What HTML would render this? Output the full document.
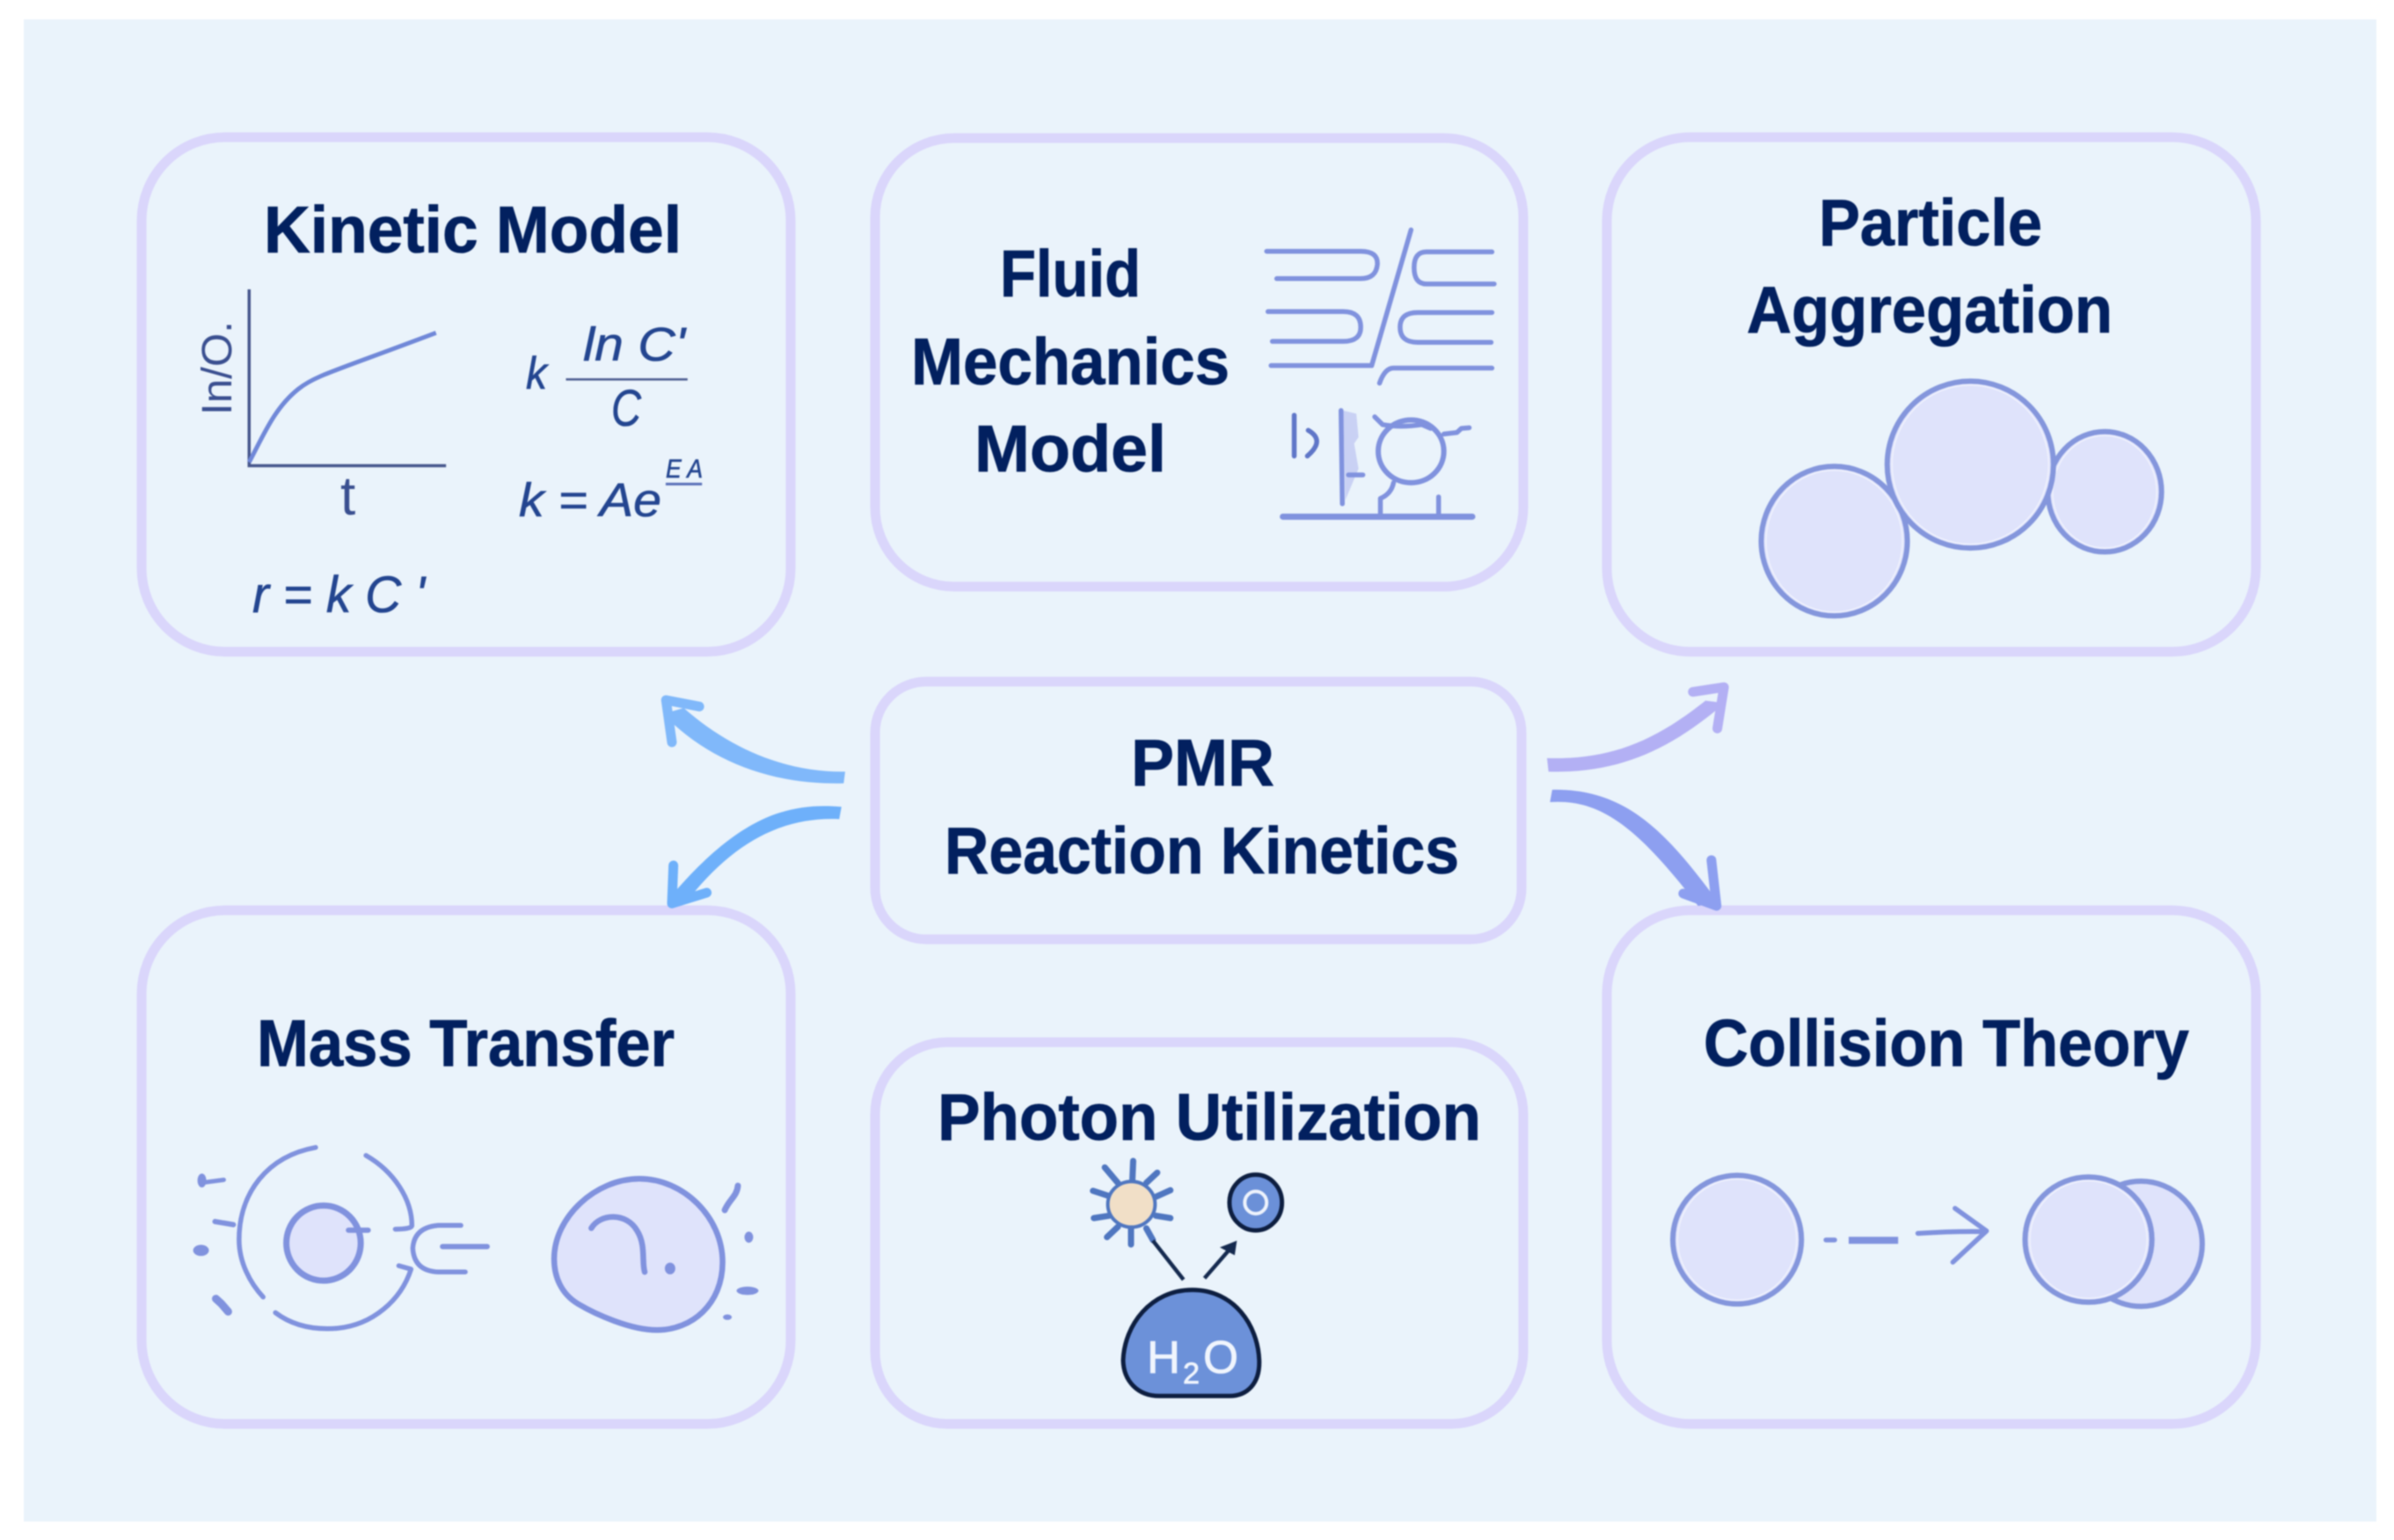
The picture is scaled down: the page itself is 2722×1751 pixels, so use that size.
<!DOCTYPE html>
<html><head><meta charset="utf-8"><title>PMR Reaction Kinetics</title>
<style>
html,body{margin:0;padding:0;background:#fff;width:2722px;height:1751px;overflow:hidden}
svg{display:block;filter:blur(.7px)}
svg *{vector-effect:non-scaling-stroke}
.c{fill:none;stroke:#dad6fb;stroke-width:11}
.h{font-family:"Liberation Sans",sans-serif;font-weight:bold;font-size:75px;fill:#02205f;stroke:#02205f;stroke-width:.8px}
.m{font-family:"Liberation Sans",sans-serif;font-style:italic;fill:#234590;stroke:#234590;stroke-width:.6px}
.s{fill:none;stroke:#8092de;stroke-width:5.5;stroke-linecap:round;stroke-linejoin:round}
.p{fill:#dfe3fb;stroke:#8496dc;stroke-width:6}
.i{fill:none;stroke:#f0f2fd;stroke-width:1.5}
</style></head><body>
<svg width="2722" height="1751" viewBox="0 0 2722 1751" xmlns="http://www.w3.org/2000/svg">
<rect x="27" y="22" width="2675" height="1708" fill="#eaf3fb"/>

<!-- cards -->
<rect class="c" x="161" y="156" width="738" height="585" rx="95"/>
<rect class="c" x="995" y="157" width="737" height="510" rx="90"/>
<rect class="c" x="1827" y="156" width="738" height="585" rx="95"/>
<rect class="c" x="995" y="775" width="735" height="293" rx="58"/>
<rect class="c" x="161" y="1035" width="738" height="584" rx="95"/>
<rect class="c" x="995" y="1185" width="737" height="434" rx="82"/>
<rect class="c" x="1827" y="1035" width="738" height="584" rx="95"/>

<!-- headings -->
<text class="h" x="300" y="287" textLength="475" lengthAdjust="spacingAndGlyphs">Kinetic Model</text>
<text class="h" x="1137" y="337" textLength="160" lengthAdjust="spacingAndGlyphs">Fluid</text>
<text class="h" x="1036" y="437" textLength="362" lengthAdjust="spacingAndGlyphs">Mechanics</text>
<text class="h" x="1108" y="536" textLength="218" lengthAdjust="spacingAndGlyphs">Model</text>
<text class="h" x="2068" y="279" textLength="254" lengthAdjust="spacingAndGlyphs">Particle</text>
<text class="h" x="1986" y="378" textLength="416" lengthAdjust="spacingAndGlyphs">Aggregation</text>
<text class="h" x="1286" y="893" textLength="163" lengthAdjust="spacingAndGlyphs">PMR</text>
<text class="h" x="1074" y="993" textLength="585" lengthAdjust="spacingAndGlyphs">Reaction Kinetics</text>
<text class="h" x="292" y="1212" textLength="475" lengthAdjust="spacingAndGlyphs">Mass Transfer</text>
<text class="h" x="1066" y="1296" textLength="618" lengthAdjust="spacingAndGlyphs">Photon Utilization</text>
<text class="h" x="1937" y="1212" textLength="552" lengthAdjust="spacingAndGlyphs">Collision Theory</text>

<!-- kinetic illustration -->
<g transform="translate(140 140) scale(.4975 .3954)">
<path d="M288,478 V985 H738" fill="none" stroke="#46568c" stroke-width="3.5"/>
<path d="M288,975 C320,900 345,820 400,765 C440,725 480,715 715,603" fill="none" stroke="#7088d8" stroke-width="5"/>
<path d="M1012,737 H1290" fill="none" stroke="#4a5a8f" stroke-width="2.5"/>
<path d="M1240,1038 H1323" fill="none" stroke="#5a70b8" stroke-width="3"/>
</g>
<text transform="translate(263 472) rotate(-90)" font-family="Liberation Sans,sans-serif" font-size="48" fill="#3a4f90" textLength="107" lengthAdjust="spacingAndGlyphs">In/O.</text>
<text x="387" y="585" font-family="Liberation Sans,sans-serif" font-size="62" fill="#3a4f90" font-weight="normal">t</text>
<text class="m" x="598" y="442" font-size="52" textLength="24" lengthAdjust="spacingAndGlyphs">k</text>
<text class="m" x="663" y="410" font-size="54" textLength="116" lengthAdjust="spacingAndGlyphs">ln C'</text>
<text class="m" x="695" y="484" font-size="58" textLength="34" lengthAdjust="spacingAndGlyphs">C</text>
<text class="m" x="590" y="587" font-size="54" textLength="162" lengthAdjust="spacingAndGlyphs">k = Ae</text>
<text class="m" x="757" y="543" font-size="30" textLength="42" lengthAdjust="spacingAndGlyphs">E A</text>
<text class="m" x="287" y="696" font-size="58" textLength="196" lengthAdjust="spacingAndGlyphs">r = k C '</text>

<!-- fluid illustration -->
<g transform="translate(980 140) scale(.4975 .3571)">
<path d="M1100,915 L1130,925 L1135,1000 L1125,1020 L1135,1100 L1105,1200 Z" fill="#c9d1f4"/>
<g class="s">
<path d="M925,408 H1140 Q1180,408 1178,450 Q1175,495 1140,495 H948"/>
<path d="M1255,340 L1165,772 H935"/>
<path d="M1440,410 H1290 Q1262,410 1262,460 Q1262,512 1290,512 H1445"/>
<path d="M928,600 H1100 Q1140,600 1140,650 Q1140,695 1100,695 H938"/>
<path d="M1440,603 H1270 Q1230,603 1230,650 Q1230,698 1270,698 H1438"/>
<path d="M1440,780 H1215 Q1195,780 1183,828"/>
<path d="M988,930 V1060" stroke="#5f76c8"/>
<path d="M1020,978 Q1060,1010 1018,1060" stroke="#5f76c8"/>
<path d="M1095,915 L1098,1212"/>
<path d="M1112,1120 H1145"/>
<ellipse cx="1255" cy="1045" rx="75" ry="100" style="stroke-width:6"/>
<path d="M1172,935 L1190,960 Q1230,970 1280,960 L1300,972"/>
<path d="M1330,990 L1360,985 L1370,972 L1388,970"/>
<path d="M1215,1145 Q1210,1180 1185,1195 V1250"/>
<path d="M962,1253 H1395" style="stroke-width:7"/>
<path d="M1318,1190 V1250"/>
</g></g>

<!-- particle illustration -->
<g transform="translate(1800 140) scale(.4975 .3954)">
<ellipse class="p" cx="1192" cy="1060" rx="130" ry="173"/><ellipse class="i" cx="1192" cy="1060" rx="119" ry="162"/>
<ellipse class="p" cx="574" cy="1202" rx="167" ry="215"/><ellipse class="i" cx="574" cy="1202" rx="156" ry="204"/>
<ellipse class="p" cx="885" cy="982" rx="190" ry="240"/><ellipse class="i" cx="885" cy="982" rx="179" ry="229"/>
</g>

<!-- mass transfer illustration -->
<g transform="translate(140 1020) scale(.4975 .3954)">
<ellipse cx="458" cy="995" rx="85" ry="108" fill="#dfe3fb" stroke="#8092de" stroke-width="7"/>
<path d="M1180,810 C1280,810 1370,920 1370,1050 C1370,1170 1300,1245 1220,1245 C1160,1245 1080,1200 1040,1170 C1000,1140 985,1090 985,1040 C985,920 1080,810 1180,810 Z" fill="#dfe3fb" stroke="#8092de" stroke-width="6.5"/>
<g class="s">
<path d="M440,720 C330,745 265,850 265,985 C265,1050 290,1110 320,1150"/>
<path d="M555,743 C620,790 660,870 660,945 Q658,955 622,955"/>
<path d="M348,1195 C390,1235 440,1245 490,1240 C570,1230 635,1160 658,1070 L630,1060"/>
<path d="M515,958 H560" style="stroke-width:6"/>
<path d="M772,944 H720 Q665,950 662,1010 Q665,1075 720,1078 H782"/>
<path d="M730,1005 H832" style="stroke-width:6"/>
<path d="M1070,952 C1090,910 1150,905 1175,960 C1195,1000 1185,1050 1192,1078" style="stroke-width:6.5"/>
<path d="M188,820 L230,813" style="stroke-width:5"/>
<path d="M210,933 L252,942" style="stroke-width:6"/>
<path d="M212,1155 L225,1170 L240,1192" style="stroke-width:9"/>
<path d="M1405,830 C1403,860 1385,870 1375,900" style="stroke-width:7"/>
</g>
<g fill="#8092de">
<ellipse cx="180" cy="815" rx="10" ry="20"/><ellipse cx="178" cy="1016" rx="18" ry="16"/>
<ellipse cx="1250" cy="1068" rx="12" ry="17"/><ellipse cx="1430" cy="978" rx="10" ry="16"/>
<ellipse cx="1427" cy="1132" rx="25" ry="12"/><ellipse cx="1381" cy="1208" rx="10" ry="8"/>
</g></g>

<!-- photon illustration -->
<g transform="translate(980 1170) scale(.4975 .3333)">
<g fill="none" stroke="#4f76c0" stroke-width="7" stroke-linecap="round">
<path d="M620,450 L618,520 M555,472 L585,525 M675,490 L650,525 M528,552 L565,570 M705,550 L672,572 M530,645 L565,637 M705,645 L672,637 M560,710 L585,675 M615,735 L615,680 M650,680 L665,720"/>
</g>
<ellipse cx="616" cy="598" rx="54" ry="78" fill="#f1dfc7" stroke="#4f76c0" stroke-width="4"/>
<path d="M665,722 L735,855 M783,850 L846,742" fill="none" stroke="#152a4f" stroke-width="4.5"/>
<path d="M857,722 L818,745 L852,772 Z" fill="#152a4f"/>
<ellipse cx="900" cy="592" rx="60" ry="95" fill="#6b90d8" stroke="#0d1e40" stroke-width="5"/>
<ellipse cx="900" cy="592" rx="25" ry="38" fill="#6b90d8" stroke="#eef3fc" stroke-width="4"/>
<path d="M755,890 C850,890 905,1010 908,1130 C910,1210 880,1252 840,1252 H680 C630,1252 598,1200 597,1130 C600,1010 660,890 755,890 Z" fill="#6c91d9" stroke="#0d1e40" stroke-width="5"/>
</g>
<g font-family="Liberation Sans,sans-serif" fill="#f0f5fd" stroke="#f0f5fd" stroke-width=".8">
<text x="1304" y="1561" font-size="52" textLength="38" lengthAdjust="spacingAndGlyphs">H</text>
<text x="1345" y="1573" font-size="34" textLength="19" lengthAdjust="spacingAndGlyphs">2</text>
<text x="1368" y="1561" font-size="52" textLength="40" lengthAdjust="spacingAndGlyphs">O</text>
</g>

<!-- collision illustration -->
<g transform="translate(1800 1020) scale(.4975 .3954)">
<ellipse class="p" cx="352" cy="985" rx="147" ry="185"/><ellipse class="i" cx="352" cy="985" rx="136" ry="174"/>
<ellipse class="p" cx="1275" cy="997" rx="140" ry="180"/>
<ellipse class="p" cx="1155" cy="985" rx="145" ry="180"/><ellipse class="i" cx="1155" cy="985" rx="134" ry="169"/>
<g class="s">
<path d="M555,986 H575"/>
<path d="M607,987 H720" style="stroke-width:8;stroke-linecap:butt"/>
<path d="M765,967 Q850,960 920,962"/>
<path d="M850,895 L922,960 L845,1050"/>
</g></g>

<!-- connector arrows -->
<g transform="translate(700 740) scale(.8418 .3333)">
<path d="M310,412 C230,415 155,335 92,195 L64,215 C125,375 210,458 308,452 Z" fill="#80b8fa"/>
<path d="M113,190 L68,168 L76,312" fill="none" stroke="#80b8fa" stroke-width="11" stroke-linecap="round" stroke-linejoin="round"/>
<path d="M305,532 C230,516 165,570 74,840 L96,855 C155,665 220,565 302,574 Z" fill="#6eb0fa"/>
<path d="M78,732 L76,862 L123,825" fill="none" stroke="#6eb0fa" stroke-width="11" stroke-linecap="round" stroke-linejoin="round"/>
<path d="M1258,366 C1340,372 1400,315 1472,170 L1498,178 C1430,325 1360,420 1260,412 Z" fill="#b3b0f4"/>
<path d="M1455,140 L1497,124 L1488,265" fill="none" stroke="#b3b0f4" stroke-width="11" stroke-linecap="round" stroke-linejoin="round"/>
<path d="M1262,516 C1330,505 1380,600 1462,870 L1490,860 C1425,640 1370,468 1265,474 Z" fill="#8d9ff0"/>
<path d="M1480,714 L1487,870 L1442,828" fill="none" stroke="#8d9ff0" stroke-width="11" stroke-linecap="round" stroke-linejoin="round"/>
</g>
</svg>
</body></html>
